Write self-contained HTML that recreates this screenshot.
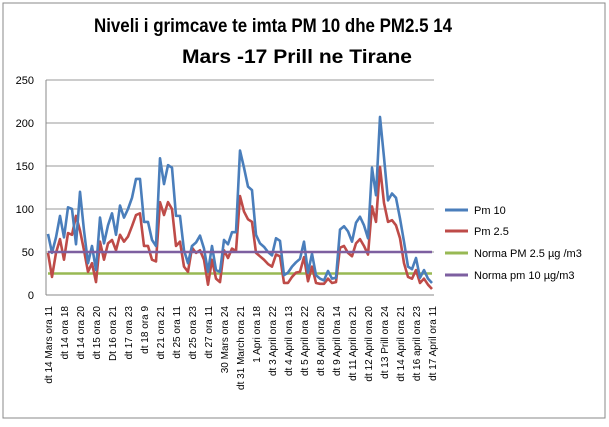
<!DOCTYPE html>
<html><head><meta charset="utf-8"><style>
body{margin:0;background:#fff;font-family:"Liberation Sans",Arial,sans-serif}
</style></head><body>
<svg id="chart" width="609" height="422" xmlns="http://www.w3.org/2000/svg" font-family="Liberation Sans, Arial, sans-serif">
<rect x="3" y="3" width="602" height="415" fill="#fff" stroke="#888"/>
<text x="273" y="32" text-anchor="middle" font-size="19" font-weight="bold" textLength="358" lengthAdjust="spacingAndGlyphs">Niveli i grimcave te imta PM 10 dhe PM2.5 14</text>
<text x="297" y="63" text-anchor="middle" font-size="19" font-weight="bold" textLength="230" lengthAdjust="spacingAndGlyphs">Mars -17 Prill ne Tirane</text>
<g id="grid"></g><g id="ticks"></g><g id="xl"></g><g id="series"></g>
<g font-size="11">
<line x1="445" y1="210" x2="468" y2="210" stroke="#4a7ebb" stroke-width="3"/><text x="474" y="214">Pm 10</text>
<line x1="445" y1="231" x2="468" y2="231" stroke="#be4b48" stroke-width="3"/><text x="474" y="235">Pm 2.5</text>
<line x1="445" y1="253" x2="468" y2="253" stroke="#98b954" stroke-width="3"/><text x="474" y="257">Norma PM 2.5 µg /m3</text>
<line x1="445" y1="275" x2="468" y2="275" stroke="#7d5fa0" stroke-width="3"/><text x="474" y="279">Norma pm 10 µg/m3</text>
</g>
</svg>
<script>
const categories=["dt 14 Mars ora 11","dt 14 ora 18","dt 14 ora 20","dt 15 ora 20","Dt 16 ora 21","dt 17 ora 23","dt 18 ora 9","dt 21 ora 21","dt 25 ora 11","dt 25 ora 23","dt 27 ora 11","30 Mars ora 24","dt 31 March ora 21","1 Apri ora 18","dt 3 April ora 22","dt 4 April ora 13","dt 5 April ora 22","dt 8 April ora 20","dt 9 April 0ra 14","dt 11 April ora 21","dt 12 April ora 20","dt 13 Prill ora 24","dt 14 April ora 21","dt 16 april ora 23","dt 17 April ora 11"];
const pm10=[71,49,67,92,67,102,100,59,120,75,37,57,29,90,60,81,95,70,104,90,100,113,135,135,85,85,64,57,159,129,151,148,92,92,52,37,57,61,69,54,27,57,29,27,64,59,73,73,168,148,126,122,70,60,56,50,46,66,63,23,26,33,38,42,62,26,48,23,19,17,28,19,20,76,80,74,62,84,91,81,66,148,116,207,160,110,118,113,89,62,33,30,43,20,29,19,14];
const pm25=[49,21,49,65,41,72,70,92,75,52,27,37,15,62,41,60,64,52,70,62,68,80,93,95,57,57,41,39,108,93,108,100,57,62,33,27,55,49,52,41,12,41,19,15,52,43,54,51,115,97,88,85,49,45,41,36,33,47,45,14,14,21,26,27,44,16,33,14,13,13,19,14,15,55,57,49,45,60,65,57,47,103,85,149,107,85,87,81,66,37,21,19,29,14,19,12,7];
const normaPM25=25, normaPM10=50;
const yTicks=[0,50,100,150,200,250];
const NS="http://www.w3.org/2000/svg";
const X0=48,X1=432,Y0=295,YT=80;
const y=v=>Y0-(v/250)*(Y0-YT);
const n=pm10.length;
const x=i=>X0+i*(X1-X0)/(n-1);
function mk(t,a,p){const e=document.createElementNS(NS,t);for(const k in a)e.setAttribute(k,a[k]);document.getElementById(p).appendChild(e);return e;}
yTicks.forEach(v=>{
 const l=mk('line',{x1:46,x2:434,y1:y(v),y2:y(v),stroke:v===0?'#888':'#999','stroke-width':1},'grid');
 
 
 const t=mk('text',{x:34,y:y(v)+4,'text-anchor':'end','font-size':11},'ticks');t.textContent=v;
 
 
});
const ax=mk('line',{x1:46,x2:46,y1:YT,y2:Y0,stroke:'#888'},'grid');


categories.forEach((c,k)=>{
 const xi=x(Math.min(k*4,n-1));
 const t=mk('text',{x:0,y:0,'text-anchor':'end','font-size':10,transform:`translate(${xi+4},306) rotate(-90)`},'xl');
 t.textContent=c;
 
 
});
function line(vals,color,name){
 const p=mk('polyline',{points:vals.map((v,i)=>x(i)+','+y(v)).join(' '),fill:'none',stroke:color,'stroke-width':2.6,'stroke-linejoin':'round'},'series');
 
 
}
line(new Array(n).fill(normaPM25),'#98b954','norma-pm25-line');
line(pm25,'#be4b48','pm25-line');
line(pm10,'#4a7ebb','pm10-line');
line(new Array(n).fill(normaPM10),'#7d5fa0','norma-pm10-line');
</script>
</body></html>
